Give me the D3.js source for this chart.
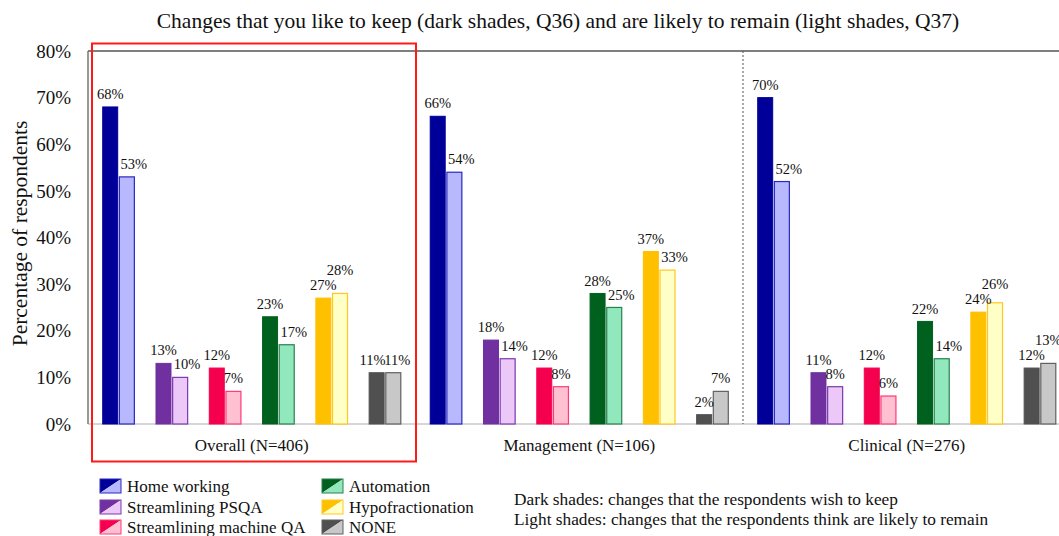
<!DOCTYPE html>
<html>
<head>
<meta charset="utf-8">
<script src="https://cdn.jsdelivr.net/npm/d3@7"></script>
<style>
  body { margin: 0; background: #fff; }
  text { font-family: "Liberation Serif", "Times New Roman", serif; fill: #111; }
</style>
</head>
<body>
<div id="chart"></div>
<script>
// data (percent of respondents)
var groups = ["Overall (N=406)", "Management (N=106)", "Clinical (N=276)"];
var categories = ["Home working", "Streamlining PSQA", "Streamlining machine QA",
                  "Automation", "Hypofractionation", "NONE"];
var keepOverall      = [68, 13, 12, 23, 27, 11];
var remainOverall    = [53, 10, 7, 17, 28, 11];
var keepManagement   = [66, 18, 12, 28, 37, 2];
var remainManagement = [54, 14, 8, 25, 33, 7];
var keepClinical     = [70, 11, 12, 22, 24, 12];
var remainClinical   = [52, 8, 6, 14, 26, 13];
var yTicks = [0, 10, 20, 30, 40, 50, 60, 70, 80];

var darkColors  = ["#000099", "#7030a0", "#f5004f", "#00601e", "#ffc000", "#505050"];
var lightColors = ["#b8b8ff", "#ecc8f8", "#ffc0d2", "#90e8bc", "#ffffc8", "#c8c8c8"];
var lightStroke = ["#2828c0", "#7a38b0", "#ff3a78", "#2a8050", "#ffc820", "#606060"];

var keep = [keepOverall, keepManagement, keepClinical];
var remain = [remainOverall, remainManagement, remainClinical];

var W = 1059, H = 536;
var plot = {left: 88, top: 51, bottom: 424, right: 1059};
var groupWidth = 327.5;

var svg = d3.select("#chart").append("svg")
    .attr("width", W)
    .attr("height", H);

// scales
var y = d3.scaleLinear().domain([0, 80]).range([plot.bottom, plot.top]);
var xGroup = d3.scaleBand().domain(groups)
    .range([plot.left, plot.left + groupWidth * groups.length]);
var xCat = d3.scaleBand().domain(categories)
    .range([0, groupWidth]).paddingInner(0.406).paddingOuter(0.276);
var xPair = d3.scaleBand().domain(["keep", "remain"])
    .range([0, xCat.bandwidth()]).paddingInner(0.1);

// title
svg.append("text")
    .attr("x", 558).attr("y", 28)
    .attr("text-anchor", "middle")
    .style("font-size", "21.5px")
    .text("Changes that you like to keep (dark shades, Q36) and are likely to remain (light shades, Q37)");

// y axis title
svg.append("text")
    .attr("transform", "translate(27," + ((plot.top + plot.bottom) / 2 - 4) + ") rotate(-90)")
    .attr("text-anchor", "middle")
    .style("font-size", "21.5px")
    .text("Percentage of respondents");

// y tick labels
svg.selectAll(".ytick").data(yTicks).enter().append("text")
    .attr("class", "ytick")
    .attr("x", 71).attr("y", d => y(d))
    .attr("dy", "0.35em")
    .attr("text-anchor", "end")
    .style("font-size", "19px")
    .text(d => d + "%");

// frame lines
svg.append("line")
    .attr("x1", plot.left).attr("x2", plot.right)
    .attr("y1", plot.bottom).attr("y2", plot.bottom)
    .attr("stroke", "#c8c8c8").attr("stroke-width", 1.5);
svg.append("line")
    .attr("x1", plot.left).attr("x2", plot.right)
    .attr("y1", plot.top).attr("y2", plot.top)
    .attr("stroke", "#555").attr("stroke-width", 1.5);
svg.append("line")
    .attr("x1", plot.left).attr("x2", plot.left)
    .attr("y1", plot.top).attr("y2", plot.bottom)
    .attr("stroke", "#777").attr("stroke-width", 1.5);

// dotted separators between groups
svg.selectAll(".sep").data(groups.slice(1)).enter().append("line")
    .attr("class", "sep")
    .attr("x1", d => xGroup(d)).attr("x2", d => xGroup(d))
    .attr("y1", plot.top).attr("y2", plot.bottom)
    .attr("stroke", "#555").attr("stroke-width", 1)
    .attr("stroke-dasharray", "2,2");

// bars + labels
groups.forEach(function(g, gi) {
    var gx = xGroup(g);
    var layer = svg.append("g").attr("transform", "translate(" + gx + ",0)");
    categories.forEach(function(c, ci) {
        var cx = xCat(c);
        var vk = keep[gi][ci], vr = remain[gi][ci];
        var bw = xPair.bandwidth();
        layer.append("rect")
            .attr("x", cx + xPair("keep")).attr("y", y(vk))
            .attr("width", bw).attr("height", y(0) - y(vk))
            .attr("fill", darkColors[ci])
            .attr("stroke", darkColors[ci]).attr("stroke-width", 1);
        layer.append("rect")
            .attr("x", cx + xPair("remain")).attr("y", y(vr))
            .attr("width", bw).attr("height", y(0) - y(vr))
            .attr("fill", lightColors[ci])
            .attr("stroke", lightStroke[ci]).attr("stroke-width", 1.2);

        // label placement: keep clear of the neighbouring bar / label
        var kx = cx + xPair("keep") + bw / 2, rx = cx + xPair("remain") + bw / 2;
        var ky = y(vk) - 13, ry = y(vr) - 13;
        if (vk === vr) { kx -= 4; rx += 4; }
        else if (vk > vr && vr >= 10) { rx += 7; }
        else if (vr > vk && ky - ry < 15) { ry = ky - 15; }
        layer.append("text")
            .attr("x", kx).attr("y", ky)
            .attr("dy", "0.35em")
            .attr("text-anchor", "middle")
            .style("font-size", "14.5px")
            .text(vk + "%");
        layer.append("text")
            .attr("x", rx).attr("y", ry)
            .attr("dy", "0.35em")
            .attr("text-anchor", "middle")
            .style("font-size", "14.5px")
            .text(vr + "%");
    });
});

// group labels
svg.selectAll(".glabel").data(groups).enter().append("text")
    .attr("class", "glabel")
    .attr("x", d => xGroup(d) + xGroup.bandwidth() / 2)
    .attr("y", 451)
    .attr("text-anchor", "middle")
    .style("font-size", "17px")
    .text(d => d);

// red highlight box around Overall
svg.append("rect")
    .attr("x", 92).attr("y", 43.5)
    .attr("width", 324).attr("height", 418)
    .attr("fill", "none")
    .attr("stroke", "#ff1a1a").attr("stroke-width", 2);

// legend
var legendCols = [100, 322];
var legendRows = [486, 507, 527];
var sw = 21, sh = 14;
categories.forEach(function(c, i) {
    var lx = legendCols[Math.floor(i / 3)], ly = legendRows[i % 3];
    var item = svg.append("g").attr("transform", "translate(" + lx + "," + (ly - sh / 2) + ")");
    item.append("path")
        .attr("d", "M0,0 L" + sw + ",0 L0," + sh + "Z")
        .attr("fill", darkColors[i]);
    item.append("path")
        .attr("d", "M" + sw + ",0 L" + sw + "," + sh + " L0," + sh + "Z")
        .attr("fill", lightColors[i]);
    item.append("rect")
        .attr("width", sw).attr("height", sh)
        .attr("fill", "none")
        .attr("stroke", lightStroke[i]).attr("stroke-width", 1);
    item.append("text")
        .attr("x", 27).attr("y", sh / 2)
        .attr("dy", "0.35em")
        .style("font-size", "17px")
        .text(c);
});

// shade note
svg.append("text")
    .attr("x", 514).attr("y", 505)
    .style("font-size", "17.3px")
    .text("Dark shades: changes that the respondents wish to keep");
svg.append("text")
    .attr("x", 514).attr("y", 525)
    .style("font-size", "17.3px")
    .text("Light shades: changes that the respondents think are likely to remain");
</script>
</body>
</html>
